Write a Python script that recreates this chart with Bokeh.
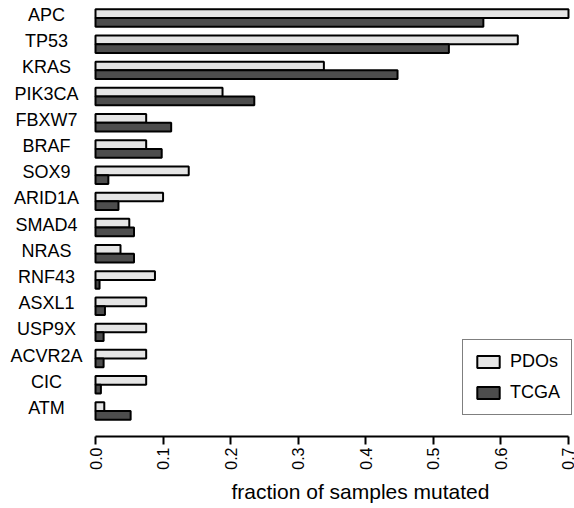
import math
import numpy as np
from bokeh.plotting import figure
from bokeh.models import (Range1d, FixedTicker, Legend, LegendItem,
                          ColumnDataSource, Title)
from bokeh.core.properties import value
from bokeh.embed import file_html
from bokeh.resources import INLINE

genes = ["APC", "TP53", "KRAS", "PIK3CA", "FBXW7", "BRAF", "SOX9", "ARID1A",
         "SMAD4", "NRAS", "RNF43", "ASXL1", "USP9X", "ACVR2A", "CIC", "ATM"]
pdos = [0.700, 0.625, 0.338, 0.188, 0.075, 0.075, 0.138, 0.100,
        0.050, 0.037, 0.088, 0.075, 0.075, 0.075, 0.075, 0.013]
tcga = [0.574, 0.523, 0.447, 0.235, 0.112, 0.098, 0.019, 0.034,
        0.057, 0.057, 0.006, 0.014, 0.012, 0.012, 0.008, 0.052]
series_names = ["PDOs", "TCGA"]
x_ticks = [0.0, 0.1, 0.2, 0.3, 0.4, 0.5, 0.6, 0.7]
x_tick_labels = ["0.0", "0.1", "0.2", "0.3", "0.4", "0.5", "0.6", "0.7"]
x_title = "fraction of samples mutated"

FONT = "Liberation Sans"
LIGHT = "#e5e5e5"
DARK = "#4d4d4d"

n = len(genes)
centers = np.arange(n - 1, -1, -1, dtype=float)  # APC at top
bar_h = 1.0 / 3.0

src = ColumnDataSource(dict(
    gene=genes,
    yc=centers,
    y_p=centers + bar_h / 2,
    y_t=centers - bar_h / 2,
    pdos=pdos,
    tcga=tcga,
))

W, H = 574, 508
frame_bottom = 437
px_per_unit_x = 675.7
px_per_unit_y = 26.26
x0_px = 95
x_start = (0 - x0_px) / px_per_unit_x
x_end = (W - x0_px) / px_per_unit_x
y_end = (n - 1) + 17.5 / px_per_unit_y
y_start = y_end - frame_bottom / px_per_unit_y

p = figure(width=W, height=H, output_backend="svg", toolbar_location=None,
           x_range=Range1d(x_start, x_end), y_range=Range1d(y_start, y_end),
           y_axis_location=None,
           min_border_left=0, min_border_right=0, min_border_top=0,
           min_border_bottom=H - frame_bottom)
p.outline_line_color = None
p.xgrid.visible = False
p.ygrid.visible = False
p.background_fill_color = "white"
p.border_fill_color = "white"

r_p = p.hbar(y="y_p", right="pdos", left=0, height=bar_h, source=src,
             fill_color=LIGHT, line_color="black", line_width=2)
r_t = p.hbar(y="y_t", right="tcga", left=0, height=bar_h, source=src,
             fill_color=DARK, line_color="black", line_width=2)

p.text(x=(46 - x0_px) / px_per_unit_x, y="yc", text="gene", source=src,
       text_align="center", text_baseline="middle", y_offset=-3,
       text_font=value(FONT), text_font_size="18px", text_color="black")

ax = p.xaxis[0]
ax.bounds = (x_ticks[0], x_ticks[-1])
ax.ticker = FixedTicker(ticks=x_ticks)
ax.major_label_overrides = {t: l for t, l in zip(x_ticks, x_tick_labels)}
ax.major_label_orientation = math.pi / 2
ax.major_label_text_font = FONT
ax.major_label_text_font_size = "16px"
ax.major_label_text_color = "black"
ax.major_label_standoff = 3
ax.major_tick_out = 8
ax.major_tick_in = 0
ax.minor_tick_out = 0
ax.minor_tick_in = 0
ax.axis_line_width = 2
ax.major_tick_line_width = 2
ax.axis_line_color = "black"
ax.major_tick_line_color = "black"

x_title_obj = Title(text=x_title, align="left", offset=231,
                    standoff=11, text_font=FONT, text_font_size="21px",
                    text_font_style="normal", text_color="black")
p.add_layout(x_title_obj, "below")

legend = Legend(items=[LegendItem(label=series_names[0], renderers=[r_p]),
                       LegendItem(label=series_names[1], renderers=[r_t])],
                location=(462, frame_bottom - 416), orientation="vertical",
                glyph_width=28, glyph_height=15, label_height=15,
                label_standoff=8, spacing=10, padding=11, margin=0,
                label_text_font=FONT, label_text_font_size="18px",
                label_text_color="black",
                border_line_color="black", border_line_width=1.5,
                background_fill_color="white", background_fill_alpha=1.0)
p.add_layout(legend, "center")

open("out.html", "w").write(file_html(p, INLINE))
